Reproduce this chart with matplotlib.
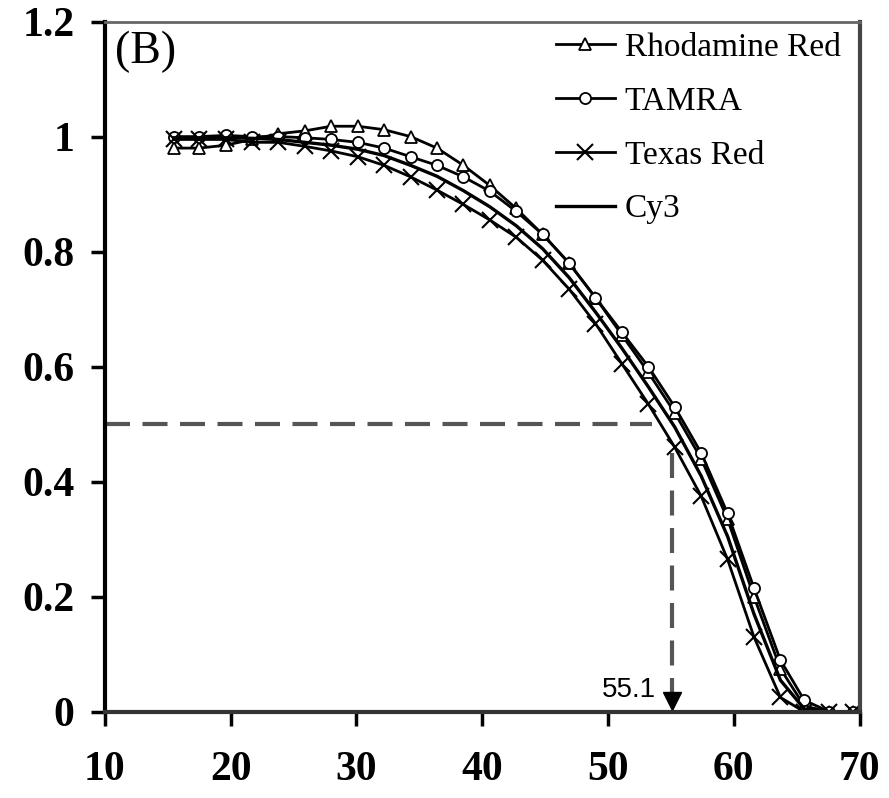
import numpy as np
import matplotlib.pyplot as plt

# temperature points (same for every dye)
temp = [15.5, 17.5, 19.6, 21.7, 23.8, 25.9, 28.0, 30.1, 32.2, 34.3, 36.4,
        38.5, 40.6, 42.7, 44.8, 46.9, 49.0, 51.1, 53.2, 55.3, 57.4, 59.5,
        61.6, 63.7, 65.6, 67.6, 69.5]

rhodamine = [0.98, 0.98, 0.985, 0.995, 1.005, 1.01, 1.018, 1.018, 1.012, 1.0,
             0.98, 0.95, 0.915, 0.875, 0.83, 0.78, 0.72, 0.655, 0.59, 0.52,
             0.44, 0.335, 0.2, 0.075, 0.01, 0.0, 0.0]
tamra = [1.0, 1.0, 1.002, 1.0, 1.0, 0.998, 0.995, 0.99, 0.98, 0.965, 0.95,
         0.93, 0.905, 0.87, 0.83, 0.78, 0.72, 0.66, 0.6, 0.53, 0.45, 0.345,
         0.215, 0.09, 0.02, 0.0, 0.0]
texas = [0.995, 0.995, 0.995, 0.99, 0.99, 0.983, 0.975, 0.965, 0.95, 0.93,
         0.907, 0.882, 0.855, 0.825, 0.785, 0.735, 0.675, 0.605, 0.535, 0.46,
         0.375, 0.265, 0.13, 0.025, 0.0, 0.0, 0.0]
cy3 = [0.998, 0.998, 0.998, 0.997, 0.995, 0.99, 0.985, 0.978, 0.967, 0.95,
       0.931, 0.906, 0.878, 0.845, 0.805, 0.755, 0.695, 0.632, 0.565, 0.495,
       0.41, 0.305, 0.17, 0.055, 0.005, 0.0, 0.0]

tm = 55.1   # melting point read at 0.5

serif = 'Liberation Serif'
guide = '#555555'

fig = plt.figure(figsize=(8.89, 7.98), dpi=100)
ax = fig.add_axes([0.118, 0.108, 0.849, 0.865])

ax.plot(temp, rhodamine, color='k', lw=2, marker='^', ms=9,
        mfc='white', mec='k', mew=1.3, label='Rhodamine Red')
ax.plot(temp, tamra, color='k', lw=2, marker='o', ms=8,
        mfc='white', mec='k', mew=1.3, label='TAMRA')
ax.plot(temp, texas, color='k', lw=2, marker='x', ms=11,
        mec='k', mew=1.5, label='Texas Red')
ax.plot(temp, cy3, color='k', lw=2.4, label='Cy3')

# dashed guide lines to Tm
ax.plot([10, 53.5], [0.5, 0.5], color=guide, lw=3, ls=(0, (6, 3)))
ax.plot([tm, tm], [0.45, 0.035], color=guide, lw=3, ls=(0, (6, 3)))
ax.plot([tm], [0.018], marker='v', color='k', ms=13, clip_on=False)
ax.text(tm - 1.3, 0.015, '55.1', ha='right', va='bottom',
        fontsize=20, family='Liberation Sans')

ax.text(10.8, 1.185, '(B)', ha='left', va='top', fontsize=33, family=serif)

ax.set_xlim(10, 70)
ax.set_ylim(0, 1.2)
ax.set_xticks([10, 20, 30, 40, 50, 60, 70])
ax.set_yticks([0, 0.2, 0.4, 0.6, 0.8, 1.0, 1.2])
ax.set_yticklabels(['0', '0.2', '0.4', '0.6', '0.8', '1', '1.2'])
ax.tick_params(direction='out', length=10, width=2.5)
ax.tick_params(axis='x', pad=18)
ax.tick_params(axis='y', pad=12)
for lab in ax.get_xticklabels() + ax.get_yticklabels():
    lab.set_fontfamily(serif)
    lab.set_fontweight('bold')
    lab.set_fontsize(30)

ax.spines['left'].set_linewidth(3)
ax.spines['bottom'].set_linewidth(3)
ax.spines['bottom'].set_color('#333333')
ax.spines['right'].set_linewidth(3)
ax.spines['right'].set_color('#444444')
ax.spines['top'].set_linewidth(2)
ax.spines['top'].set_color('#666666')

leg = ax.legend(loc='upper left', bbox_to_anchor=(0.567, 1.018), frameon=False,
                prop={'family': serif, 'size': 24}, handlelength=1.75,
                handletextpad=0.3, labelspacing=0.7, borderpad=0.2)

fig.savefig('out.png', dpi=100, facecolor='white')
